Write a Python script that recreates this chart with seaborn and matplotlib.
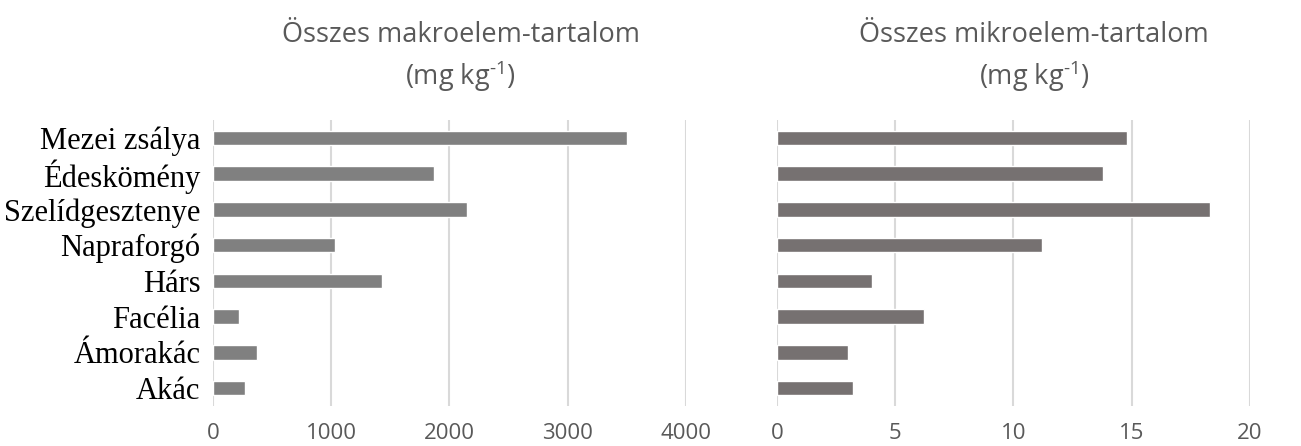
import matplotlib
matplotlib.use("Agg")
import matplotlib.pyplot as plt
import seaborn as sns
import pandas as pd

# Honey types (top to bottom) and their total element contents
honey_types = ["Mezei zsálya", "Édeskömény", "Szelídgesztenye", "Napraforgó",
               "Hárs", "Facélia", "Ámorakác", "Akác"]
macro_total = [3500, 1870, 2150, 1030, 1430, 220, 375, 275]
micro_total = [14.8, 13.8, 18.3, 11.2, 4.0, 6.2, 3.0, 3.2]

macro_ticks = [0, 1000, 2000, 3000, 4000]
micro_ticks = [0, 5, 10, 15, 20]

macro_title = "Összes makroelem-tartalom\n(mg kg$^{\\text{-}1}$)"
micro_title = "Összes mikroelem-tartalom\n(mg kg$^{\\text{-}1}$)"

sns.set_style("white")
plt.rcParams["font.family"] = ["Open Sans", "DejaVu Sans"]
plt.rcParams["mathtext.fontset"] = "custom"
plt.rcParams["mathtext.rm"] = "Open Sans"
plt.rcParams["mathtext.default"] = "regular"

df = pd.DataFrame({"honey": honey_types, "macro": macro_total, "micro": micro_total})

fig = plt.figure(figsize=(13.01, 4.46), dpi=100)
ax1 = fig.add_axes([0.1637, 0.0897, 0.3636, 0.6413])
ax2 = fig.add_axes([0.5972, 0.0897, 0.3636, 0.6413])

text_gray = "#595959"
grid_gray = "#d9d9d9"

panels = [
    (ax1, "macro", "#808080", macro_ticks, macro_title, 0.354),
    (ax2, "micro", "#767171", micro_ticks, micro_title, 0.795),
]

for ax, col, color, ticks, title, tx in panels:
    sns.barplot(data=df, y="honey", x=col, orient="h", color=color,
                width=0.4, saturation=1, ax=ax)
    ax.set_xlim(ticks[0], ticks[-1])
    ax.set_ylim(len(honey_types) - 0.5, -0.5)
    ax.set_xticks(ticks)
    ax.set_xticklabels([str(t) for t in ticks], color=text_gray, fontsize=16)
    ax.set_xlabel("")
    ax.set_ylabel("")
    ax.xaxis.grid(True, color=grid_gray, linewidth=1.5)
    ax.set_axisbelow(True)
    ax.tick_params(axis="x", length=0, pad=12.5)
    ax.tick_params(axis="y", length=0, pad=9)
    for s in ax.spines.values():
        s.set_visible(False)
    fig.text(tx, 0.953, title, ha="center", va="top", color=text_gray,
             fontsize=19.5, linespacing=1.35)

ax1.set_yticks(range(len(honey_types)))
ax1.set_yticklabels(honey_types, fontfamily="Liberation Serif", fontsize=22,
                    color="black")
ax2.set_yticks(range(len(honey_types)))
ax2.set_yticklabels([])

fig.savefig("out.png", dpi=100)
